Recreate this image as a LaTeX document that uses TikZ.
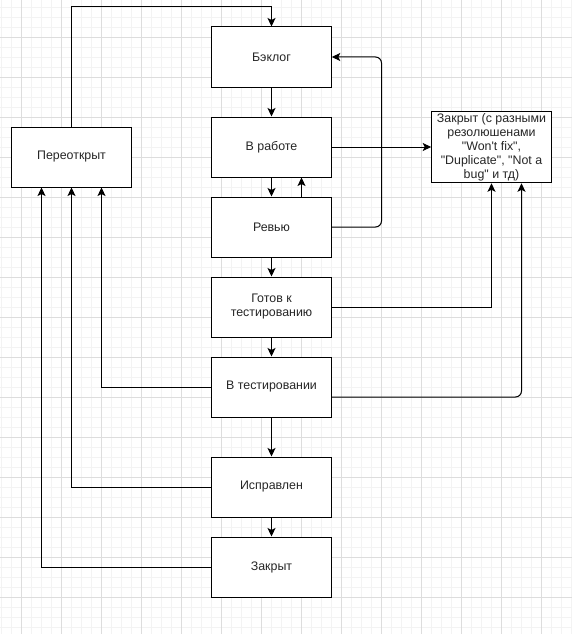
\documentclass[tikz,border=0pt]{standalone}
\usepackage{fontspec}
\setmainfont{Liberation Sans}[Ligatures=TeXOff]
\usetikzlibrary{arrows.meta,calc}
\definecolor{gridminor}{HTML}{F3F3F3}
\definecolor{gridmajor}{HTML}{DDDDDD}
\tikzset{
  statebox/.style={draw=black, line width=1pt, fill=white, minimum width=119.6pt, minimum height=60pt, align=center, inner sep=2pt, font=\fontsize{12.4}{14}\selectfont, text=black!85},
  flow/.style={draw=black, line width=1pt, -{Stealth[length=8.5pt,width=8pt,inset=2pt]}},
}
\begin{document}
\begin{tikzpicture}[x=1pt,y=-1pt]
\useasboundingbox (0,0) rectangle (572,634);
\fill[white] (0,0) rectangle (572,634);
% grid
\foreach \gx in {1,11,...,571} \draw[gridminor,line width=0.6pt] (\gx,0) -- (\gx,634);
\foreach \gy in {7,17,...,634} \draw[gridminor,line width=0.6pt] (0,\gy) -- (572,\gy);
\foreach \gx in {21,61,...,571} \draw[gridmajor,line width=0.7pt] (\gx,0) -- (\gx,634);
\foreach \gy in {37,77,...,634} \draw[gridmajor,line width=0.7pt] (0,\gy) -- (572,\gy);

% nodes
\node[statebox] (backlog) at (271.5,57) {Бэклог};
\node[statebox] (work) at (271.5,147) {В работе};
\node[statebox] (review) at (271.5,227) {Ревью};
\node[statebox] (ready) at (271.5,307) {Готов к\\тестированию};
\node[statebox] (test) at (271.5,387) {В тестировании};
\node[statebox] (fixed) at (271.5,487) {Исправлен};
\node[statebox] (closed) at (271.5,567) {Закрыт};
\node[statebox] (pere) at (71.5,157) {Переоткрыт};
\node[statebox] (resol) at (491.5,147) {Закрыт (с разными\\резолюшенами\\"Won't fix",\\"Duplicate", "Not a\\bug" и тд)};

\coordinate (top) at (0,7);
\coordinate (loopx) at (381.5,0);

% connectors
\draw[flow] (pere.north) -- (pere.north |- top) -- (backlog.north |- top) -- (backlog.north);
\draw[flow] (backlog.south) -- (work.north);
\draw[flow] (work.south) -- (review.north);
\draw[flow] ($(review.north)+(30,0)$) -- ($(work.south)+(30,0)$);
\draw[flow] (work.east) -- (resol.west);
\draw[flow,rounded corners=6pt] (review.east) -- (review.east -| loopx) -- (backlog.east -| loopx) -- (backlog.east);
\draw[flow] (review.south) -- (ready.north);
\draw[flow] (ready.east) -- (ready.east -| resol.south) -- (resol.south);
\draw[flow] (ready.south) -- (test.north);
\draw[flow] (test.west) -- ($(test.west -| pere.south)+(30,0)$) -- ($(pere.south)+(30,0)$);
\draw[flow,rounded corners=6pt] ($(test.east)+(0,10)$) -- ($(test.east -| resol.south)+(30,10)$) -- ($(resol.south)+(30,0)$);
\draw[flow] (test.south) -- (fixed.north);
\draw[flow] (fixed.west) -- (fixed.west -| pere.south) -- (pere.south);
\draw[flow] (fixed.south) -- (closed.north);
\draw[flow] (closed.west) -- ($(closed.west -| pere.south)+(-30,0)$) -- ($(pere.south)+(-30,0)$);
\end{tikzpicture}
\end{document}
